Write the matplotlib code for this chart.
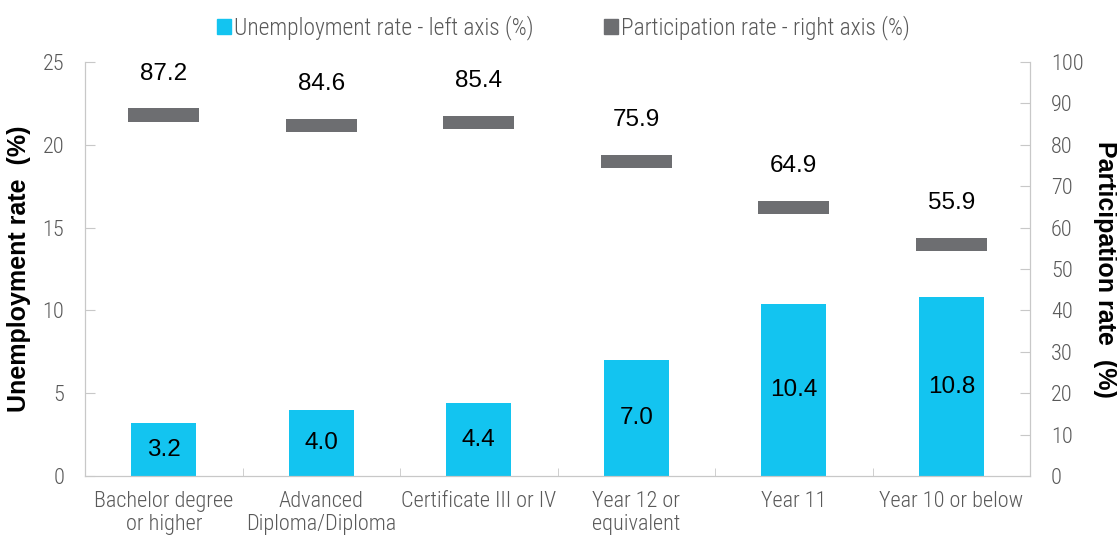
import matplotlib
matplotlib.use("Agg")
import matplotlib.pyplot as plt
from matplotlib.patches import Patch
import numpy as np

categories = ["Bachelor degree\nor higher", "Advanced\nDiploma/Diploma", "Certificate III or IV",
              "Year 12 or\nequivalent", "Year 11", "Year 10 or below"]
unemployment = [3.2, 4.0, 4.4, 7.0, 10.4, 10.8]
participation = [87.2, 84.6, 85.4, 75.9, 64.9, 55.9]

CYAN = "#13C4F0"
GREY = "#6D6E71"
TICK = "#595959"
SPINE = "#C8C8C8"
COND = ["Roboto Condensed", "DejaVu Sans"]
SANS = ["Liberation Sans", "DejaVu Sans"]

fig = plt.figure(figsize=(11.17, 5.38), dpi=100)
ax = fig.add_axes([85/1117, 1-476/538, 945/1117, 414/538])
ax2 = ax.twinx()

x = np.arange(len(categories))
ax.bar(x, unemployment, width=0.41, color=CYAN, zorder=2)
ax2.bar(x, [3.2]*len(x), bottom=np.array(participation)-1.6, width=0.45, color=GREY, zorder=2)

for xi, v in zip(x, unemployment):
    ax.text(xi, v/2, f"{v:.1f}", ha="center", va="center", fontsize=17.5, family=SANS, color="black")
for xi, v in zip(x, participation):
    ax2.text(xi, v + 10, f"{v:.1f}", ha="center", va="center", fontsize=17.5, family=SANS, color="black")

ax.set_xlim(-0.5, len(x)-0.5)
ax.set_ylim(0, 25)
ax2.set_ylim(0, 100)
ax.set_yticks(np.arange(0, 26, 5))
ax2.set_yticks(np.arange(0, 101, 10))

ax.set_xticks(x)
ax.set_xticklabels(categories, family=COND, fontweight="light", fontsize=16, color=TICK, linespacing=1.12)
ax.set_xticks(np.arange(-0.5, len(x), 1), minor=True)
ax.tick_params(axis="x", which="major", length=0, pad=11)
ax.tick_params(axis="x", which="minor", length=6, color=SPINE, direction="in")

for a in (ax, ax2):
    for s in a.spines.values():
        s.set_color(SPINE)
    a.spines["top"].set_visible(False)
    a.tick_params(axis="y", length=7, direction="in", color=SPINE, labelcolor=TICK, labelsize=16, pad=15)
    for lab in a.get_yticklabels():
        lab.set_family(COND)
        lab.set_fontweight("light")

ax.set_ylabel("Unemployment rate  (%)", fontsize=18, fontweight="bold", family=SANS, labelpad=8)
ax2.set_ylabel("Participation rate  (%)", fontsize=18, fontweight="bold", family=SANS,
               rotation=270, labelpad=24)

handles = [Patch(color=CYAN), Patch(color=GREY)]
labels = ["Unemployment rate - left axis (%)", "Participation rate - right axis (%)"]
fig.legend(handles, labels, loc="center", bbox_to_anchor=(0.5045, 1-28/538), ncol=2,
           frameon=False, prop={"family": COND, "size": 16.8, "weight": "light"}, labelcolor=TICK,
           handlelength=0.6, handleheight=0.58, handletextpad=0.15, columnspacing=3.0)

fig.savefig("out.png", dpi=100)
